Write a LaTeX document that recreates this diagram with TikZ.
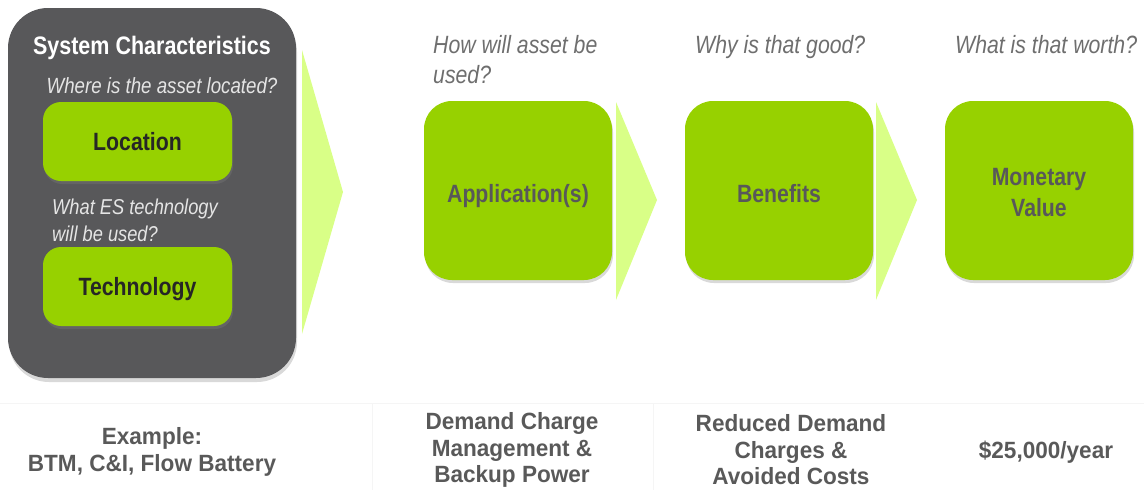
\documentclass[tikz,border=0pt]{standalone}
\usepackage{fontspec}
\setmainfont{Liberation Sans}[FakeStretch=0.85]
\newfontfamily\bottomfont{Liberation Sans}[FakeStretch=0.96]
\usepackage{xcolor}
\usetikzlibrary{shadows, positioning, calc}
\definecolor{mygreen}{HTML}{97D100}
\definecolor{mylight}{HTML}{D9FF87}
\definecolor{mydark}{HTML}{58585A}
\definecolor{mygrey}{HTML}{595959}
\definecolor{myquest}{HTML}{6E6E6E}
\tikzstyle{greenbox} = [rounded corners=18pt, fill=mygreen, minimum width=189pt, minimum height=79pt, align=center, text=black!85, font=\bfseries\fontsize{25}{31}\selectfont, text height=18pt, text depth=0pt, drop shadow={opacity=0.3, shadow xshift=1pt, shadow yshift=-3pt}]
\tikzstyle{bigbox} = [rounded corners=28pt, fill=mygreen, minimum width=188pt, minimum height=179pt, align=center, text=mydark, font=\bfseries\fontsize{25}{31}\selectfont, drop shadow={opacity=0.3, shadow xshift=1pt, shadow yshift=-3pt}]
\tikzstyle{bigone} = [bigbox, text height=23pt, text depth=0pt]
\tikzstyle{question} = [inner sep=0pt, text=myquest, font=\itshape\fontsize{25}{30}\selectfont, align=left]
\tikzstyle{example} = [inner sep=0pt, text=mygrey, align=center, font=\bottomfont\bfseries\fontsize{23.5}{26.5}\selectfont]
\tikzstyle{chevron} = [fill=mylight]

\begin{document}
\begin{tikzpicture}[x=1pt, y=-1pt]
\useasboundingbox (0,0) rectangle (1144,490);

% faint table lines at the bottom
\draw[black!4, line width=0.8pt] (0,403) -- (1144,403);
\draw[black!4, line width=0.8pt] (372,403) -- (372,490);
\draw[black!4, line width=0.8pt] (653,403) -- (653,490);

% system characteristics panel
\node[
rounded corners=40pt,
fill=mydark,
minimum width=288pt,
minimum height=370pt,
drop shadow={opacity=0.3, shadow xshift=1pt, shadow yshift=-4pt}
] (syschar) at (152,193) {};

\node[inner sep=0pt, anchor=base, text=white, font=\bfseries\fontsize{25.3}{29}\selectfont]
(systitle) at (152,54) {System Characteristics};

\node[question, anchor=base, text=black!10, font=\itshape\fontsize{22}{27}\selectfont]
(qloc) at (162,93) {Where is the asset located?};
\node[greenbox] (location) at (137.5,141.5) {Location};

\node[question, anchor=base west, text=black!10, font=\itshape\fontsize{21.5}{27}\selectfont]
(qtech) at (52,241) {What ES technology\\will be used?};
\node[greenbox] (technology) at (137.5,286.5) {Technology};

% chevrons
\fill[chevron] (302,50) -- (343,192) -- (302,334) -- cycle;
\fill[chevron] (616,102) -- (657,200) -- (616,300) -- cycle;
\fill[chevron] (876,102) -- (917,200) -- (876,300) -- cycle;

% value chain
\node[bigone] (app) at (518,190.5) {Application(s)};
\node[bigone] (benefit) at (779,190.5) {Benefits};
\node[bigbox] (money) at (1039,190.5) {\rule{0pt}{21pt}Monetary\\Value};

\node[question, anchor=base west] (qapp) at (433,83) {How will asset be\\used?};
\node[question, anchor=base west] (qbenefit) at (695,53) {Why is that good?};
\node[question, anchor=base west] (qmoney) at (955,53) {What is that worth?};

% examples
\node[example] (exsys) at (152,452) {Example:\\BTM, C\&I, Flow Battery};
\node[example] (exapp) at (512,450) {Demand Charge\\Management \&\\Backup Power};
\node[example] (exbenefit) at (791,450) {Reduced Demand\\Charges \&\\Avoided Costs};
\node[example] (exmoney) at (1046,452) {\$25,000/year};
\end{tikzpicture}
\end{document}
